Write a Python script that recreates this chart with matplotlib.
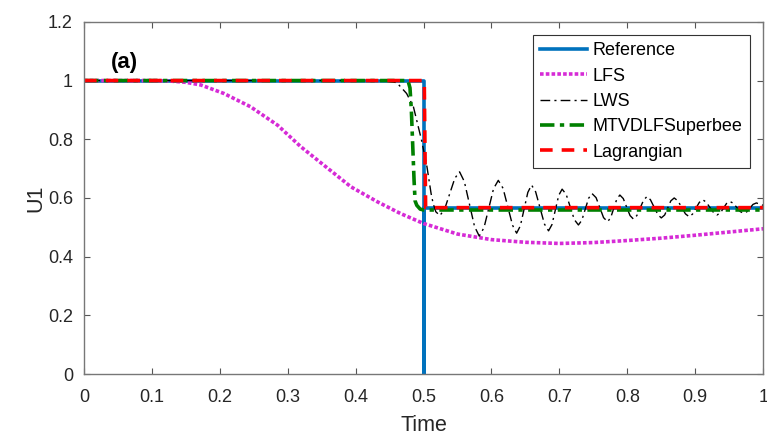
import numpy as np
import matplotlib.pyplot as plt

plt.rcParams['font.family'] = ['Liberation Sans', 'DejaVu Sans']

# Reference (exact) solution
ref_t = [0, 0.5, 0.5, 0.5, 1.0]
ref_u = [1.0, 1.0, 0.0, 0.565, 0.565]

# LFS
lfs_t = [0, 0.10, 0.123, 0.15, 0.172, 0.206, 0.245, 0.285, 0.319, 0.353, 0.393, 0.432,
         0.466, 0.50, 0.55, 0.60, 0.65, 0.70, 0.75, 0.80, 0.85, 0.90, 0.95, 1.0]
lfs_u = [1.0, 1.0, 0.999, 0.994, 0.985, 0.956, 0.911, 0.848, 0.775, 0.712, 0.638, 0.587,
         0.547, 0.513, 0.477, 0.458, 0.449, 0.445, 0.448, 0.455, 0.463, 0.473, 0.484, 0.495]

# LWS
lws_t = [0, 0.44, 0.4605, 0.475, 0.485, 0.497, 0.505, 0.511, 0.514, 0.518, 0.524,
         0.531, 0.5385, 0.546, 0.553, 0.560, 0.5675, 0.575, 0.582,
         0.589, 0.596, 0.603, 0.610, 0.617, 0.624, 0.631, 0.637,
         0.6425, 0.648, 0.6535, 0.659, 0.665, 0.6715, 0.678, 0.684,
         0.689, 0.694, 0.699, 0.704, 0.710, 0.716, 0.722, 0.728,
         0.733, 0.738, 0.743, 0.748, 0.754, 0.7595, 0.765, 0.771,
         0.7755, 0.780, 0.7845, 0.789, 0.794, 0.799, 0.804, 0.809,
         0.814, 0.819, 0.824, 0.829, 0.834, 0.8395, 0.845, 0.850,
         0.855, 0.8595, 0.864, 0.869, 0.8745, 0.880, 0.8855, 0.891,
         0.896, 0.901, 0.906, 0.911, 0.916, 0.9215, 0.927, 0.932,
         0.937, 0.9415, 0.946, 0.951, 0.956, 0.961, 0.966, 0.971,
         0.976, 0.9805, 0.985, 0.990, 1.0]
lws_u = [1.0, 1.0, 0.993, 0.956, 0.911, 0.797, 0.706, 0.616, 0.582, 0.553, 0.540,
         0.562, 0.6145, 0.667, 0.689, 0.656, 0.5795, 0.503, 0.470,
         0.499, 0.565, 0.6315, 0.660, 0.633, 0.570, 0.507, 0.480,
         0.505, 0.562, 0.619, 0.644, 0.621, 0.566, 0.511, 0.488,
         0.509, 0.559, 0.609, 0.630, 0.612, 0.569, 0.526, 0.508,
         0.524, 0.5615, 0.599, 0.615, 0.601, 0.567, 0.533, 0.519,
         0.533, 0.5645, 0.596, 0.610, 0.598, 0.569, 0.540, 0.528,
         0.540, 0.5665, 0.593, 0.605, 0.594, 0.5685, 0.543, 0.532,
         0.542, 0.566, 0.590, 0.600, 0.590, 0.568, 0.546, 0.536,
         0.545, 0.565, 0.585, 0.594, 0.586, 0.568, 0.550, 0.542,
         0.549, 0.565, 0.581, 0.588, 0.582, 0.568, 0.554, 0.548,
         0.553, 0.5655, 0.578, 0.583, 0.575]

# MTVDLFSuperbee
mtv_t = [0, 0.477, 0.480, 0.482, 0.484, 0.486, 0.4875, 0.490, 0.495, 0.50, 1.0]
mtv_u = [1.0, 1.0, 0.975, 0.90, 0.78, 0.66, 0.590, 0.575, 0.562, 0.559, 0.559]

# Lagrangian
lag_t = [0, 0.501, 0.503, 1.0]
lag_u = [1.0, 1.0, 0.567, 0.567]

xticks = [0, 0.1, 0.2, 0.3, 0.4, 0.5, 0.6, 0.7, 0.8, 0.9, 1.0]
xlabels = ['0', '0.1', '0.2', '0.3', '0.4', '0.5', '0.6', '0.7', '0.8', '0.9', '1']
yticks = [0, 0.2, 0.4, 0.6, 0.8, 1.0, 1.2]
ylabels = ['0', '0.2', '0.4', '0.6', '0.8', '1', '1.2']

fig = plt.figure(figsize=(7.67, 4.37), dpi=100)
ax = fig.add_axes([0.1095, 0.144, 0.8855, 0.806])

ax.plot(ref_t, ref_u, color='#0072BD', lw=2.6, label='Reference')
ax.plot(lfs_t, lfs_u, color='#D62BD6', lw=2.6, ls=(0, (1, 0.6)), label='LFS')
ax.plot(lws_t, lws_u, color='black', lw=1.0, ls=(0, (7, 3, 1.5, 3)), label='LWS')
ax.plot(mtv_t, mtv_u, color='#008000', lw=2.6, ls=(0, (4, 1.5, 1.2, 1.5)), label='MTVDLFSuperbee')
ax.plot(lag_t, lag_u, color='#FF0000', lw=2.6, ls=(0, (3.5, 2.5)), label='Lagrangian')

ax.set_xlim(0, 1)
ax.set_ylim(0, 1.2)
ax.set_xticks(xticks)
ax.set_xticklabels(xlabels)
ax.set_yticks(yticks)
ax.set_yticklabels(ylabels)
ax.tick_params(direction='in', length=4, width=0.8, top=True, right=True,
               colors='#555555', labelcolor='#262626', labelsize=13)
ax.tick_params(axis='x', pad=11)
ax.tick_params(axis='y', pad=8)
for s in ax.spines.values():
    s.set_color('#777777')
    s.set_linewidth(1.0)

ax.set_xlabel('Time', fontsize=15.5, color='#262626', labelpad=6)
ax.set_ylabel('U1', fontsize=15.5, color='#262626', labelpad=1)
ax.text(0.04, 1.063, '(a)', fontsize=16, fontweight='bold', va='center', ha='left')

leg = ax.legend(loc='upper right', bbox_to_anchor=(0.981, 0.963), borderaxespad=0,
                fontsize=13, handlelength=2.6, handletextpad=0.3, labelspacing=0.46,
                borderpad=0.42, fancybox=False, framealpha=1)
leg.get_frame().set_edgecolor('#333333')
leg.get_frame().set_linewidth(0.8)

plt.savefig('out.png', dpi=100)
plt.close()
